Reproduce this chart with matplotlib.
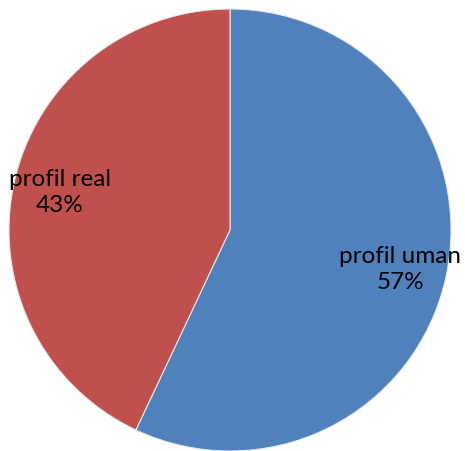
import matplotlib
matplotlib.use('Agg')
import matplotlib.pyplot as plt

labels = ['profil uman', 'profil real']
values = [57, 43]
colors = ['#4F81BD', '#C0504D']

fig = plt.figure(figsize=(4.65, 4.52), dpi=100)
ax = fig.add_axes([0, 0, 1, 1])

texts = ['%s\n%d%%' % (l, v) for l, v in zip(labels, values)]
wedges, lbls = ax.pie(values, labels=texts, colors=colors,
                      startangle=90, counterclock=False,
                      center=(230, 221), radius=221,
                      labeldistance=0.79,
                      wedgeprops={'edgecolor': '#e8e8e8', 'linewidth': 0.8},
                      textprops={'fontsize': 17.5, 'family': ['Lato', 'DejaVu Sans'],
                                 'color': 'black', 'linespacing': 1.3})
for t in lbls:
    t.set_ha('center')
    t.set_va('center')

ax.set_xlim(0, 465)
ax.set_ylim(0, 452)
ax.set_aspect('equal')
ax.axis('off')

fig.savefig('out.png', dpi=100)
